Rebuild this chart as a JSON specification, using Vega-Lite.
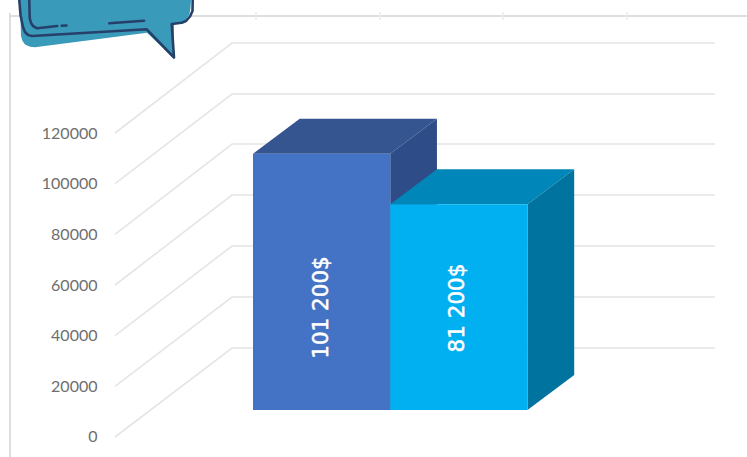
{"$schema":"https://vega.github.io/schema/vega-lite/v6.json","width":747,"height":457,"autosize":{"type":"none"},"padding":0,"background":"white","config":{"view":{"stroke":null}},
"datasets":{
"grid":[
{"level":0,"x":-1.0055,"y":0},{"level":0,"x":-0.153,"y":35132},{"level":0,"x":3.3661,"y":35132},
{"level":20000,"x":-1.0055,"y":20000},{"level":20000,"x":-0.153,"y":55264},{"level":20000,"x":3.3661,"y":55264},
{"level":40000,"x":-1.0055,"y":40000},{"level":40000,"x":-0.153,"y":75396},{"level":40000,"x":3.3661,"y":75396},
{"level":60000,"x":-1.0055,"y":60000},{"level":60000,"x":-0.153,"y":95527},{"level":60000,"x":3.3661,"y":95527},
{"level":80000,"x":-1.0055,"y":80000},{"level":80000,"x":-0.153,"y":115659},{"level":80000,"x":3.3661,"y":115659},
{"level":100000,"x":-1.0055,"y":100000},{"level":100000,"x":-0.153,"y":135396},{"level":100000,"x":3.3661,"y":135396},
{"level":120000,"x":-1.0055,"y":120000},{"level":120000,"x":-0.153,"y":155528},{"level":120000,"x":3.3661,"y":155528}],
"faces":[
{"face":"A top","x":0,"top":111858,"bottom":111858},{"face":"A top","x":0.3403,"top":125674,"bottom":111858},{"face":"A top","x":1,"top":125674,"bottom":111858},{"face":"A top","x":1.3403,"top":125674,"bottom":125674},
{"face":"A side","x":1,"top":111858,"bottom":10658},{"face":"A side","x":1.3403,"top":125674,"bottom":24474},
{"face":"B top","x":1,"top":91858,"bottom":91858},{"face":"B top","x":1.3403,"top":105674,"bottom":91858},{"face":"B top","x":2,"top":105674,"bottom":91858},{"face":"B top","x":2.3403,"top":105674,"bottom":105674},
{"face":"B side","x":2,"top":91858,"bottom":10658},{"face":"B side","x":2.3403,"top":105674,"bottom":24474}],
"bars":[
{"face":"A front","start":0,"end":1,"base":10658,"top":111858,"label":"101 200$","lx":0.505,"ly":51120},
{"face":"B front","start":1,"end":2,"base":10658,"top":91858,"label":"81 200$","lx":1.491,"ly":50921}],
"frame":[
{"p":"top","x":0.9,"y":1.6},{"p":"top","x":74.7,"y":1.6},
{"p":"left","x":1.0,"y":1.3},{"p":"left","x":1.0,"y":45.7}],
"frameTicks":[
{"p":"t1","x":25.6,"y":1.2},{"p":"t1","x":25.6,"y":2.0},
{"p":"t2","x":38.0,"y":1.2},{"p":"t2","x":38.0,"y":2.0},
{"p":"t3","x":50.3,"y":1.2},{"p":"t3","x":50.3,"y":2.0},
{"p":"t4","x":62.7,"y":1.2},{"p":"t4","x":62.7,"y":2.0}],
"bubbleFill":[
{"x":2.0,"top":0,"bottom":0},{"x":2.1,"top":0,"bottom":3.6},{"x":2.25,"top":0,"bottom":4.1},{"x":2.5,"top":0,"bottom":4.45},{"x":3.0,"top":0,"bottom":4.68},{"x":3.5,"top":0,"bottom":4.73},{"x":14.7,"top":0,"bottom":3.27},{"x":17.35,"top":0,"bottom":5.8},{"x":17.4,"top":0,"bottom":2.45},{"x":18.1,"top":0,"bottom":2.35},{"x":18.6,"top":0,"bottom":2.0},{"x":18.95,"top":0,"bottom":1.4},{"x":19.05,"top":0,"bottom":0.8},{"x":19.1,"top":0,"bottom":0}],
"bubbleLine":[
{"p":"outer","o":1,"x":1.93,"y":0},{"p":"outer","o":2,"x":2.05,"y":1.5},{"p":"outer","o":3,"x":2.3,"y":2.7},{"p":"outer","o":4,"x":2.5,"y":3.2},{"p":"outer","o":5,"x":2.8,"y":3.5},{"p":"outer","o":6,"x":3.2,"y":3.6},{"p":"outer","o":7,"x":14.67,"y":2.93},{"p":"outer","o":8,"x":17.4,"y":5.75},{"p":"outer","o":9,"x":17.17,"y":2.4},{"p":"outer","o":10,"x":18.17,"y":2.27},{"p":"outer","o":11,"x":18.6,"y":2.1},{"p":"outer","o":12,"x":19.0,"y":1.65},{"p":"outer","o":13,"x":19.25,"y":1.1},{"p":"outer","o":14,"x":19.27,"y":0},
{"p":"inner","o":1,"x":2.93,"y":0},{"p":"inner","o":2,"x":2.97,"y":1.8},{"p":"inner","o":3,"x":3.1,"y":2.3},{"p":"inner","o":4,"x":3.3,"y":2.6},{"p":"inner","o":5,"x":3.7,"y":2.83},{"p":"inner","o":6,"x":5.73,"y":2.6},
{"p":"dash1","o":1,"x":6.17,"y":2.57},{"p":"dash1","o":2,"x":6.65,"y":2.55},
{"p":"dash2","o":1,"x":10.93,"y":2.33},{"p":"dash2","o":2,"x":14.4,"y":2.07}]
},
"resolve":{"scale":{"x":"independent","y":"independent"}},
"layer":[
{"layer":[
{"data":{"name":"grid"},"mark":{"type":"line","color":"#e5e5e5","strokeWidth":1.6},
"encoding":{"x":{"field":"x","type":"quantitative","scale":{"domain":[-1.8434,3.5993],"nice":false,"zero":false},"axis":null},
"y":{"field":"y","type":"quantitative","scale":{"domain":[-7895,172501],"nice":false,"zero":false},"axis":{"values":[0,20000,40000,60000,80000,100000,120000],"format":"d","title":null,"grid":false,"domain":false,"ticks":false,"offset":-97,"labelPadding":0,"labelOffset":0,"labelFont":"Lato","labelFontSize":16,"labelColor":"#6e6e6e"}},
"detail":{"field":"level"}}},
{"data":{"name":"faces"},"mark":{"type":"area","line":false,"opacity":1},
"encoding":{"x":{"field":"x","type":"quantitative"},"y":{"field":"top","type":"quantitative","stack":null},"y2":{"field":"bottom"},
"color":{"field":"face","type":"nominal","legend":null,"scale":{"domain":["A top","A side","A front","B top","B side","B front"],"range":["#34558f","#2e4c87","#4472c4","#0086b8","#00749f","#00b0f0"]}}}},
{"data":{"name":"bars"},"mark":{"type":"rect"},
"encoding":{"x":{"field":"start","type":"quantitative"},"x2":{"field":"end"},"y":{"field":"base","type":"quantitative"},"y2":{"field":"top"},
"color":{"field":"face","type":"nominal","legend":null,"scale":{"domain":["A top","A side","A front","B top","B side","B front"],"range":["#34558f","#2e4c87","#4472c4","#0086b8","#00749f","#00b0f0"]}}}},
{"data":{"name":"bars"},"mark":{"type":"text","angle":270,"font":"DejaVu Sans","fontSize":21.5,"color":"white","stroke":"white","strokeWidth":0.5,"align":"center","baseline":"middle"},
"encoding":{"x":{"field":"lx","type":"quantitative"},"y":{"field":"ly","type":"quantitative"},"text":{"field":"label"}}}
]},
{"layer":[
{"data":{"name":"frame"},"mark":{"type":"line","color":"#dedede","strokeWidth":2},
"encoding":{"x":{"field":"x","type":"quantitative","scale":{"domain":[0,74.7],"nice":false,"zero":false},"axis":null},
"y":{"field":"y","type":"quantitative","scale":{"domain":[45.7,0],"nice":false,"zero":false},"axis":null},
"detail":{"field":"p"},"order":{"field":"y"}}},
{"data":{"name":"frameTicks"},"mark":{"type":"line","color":"#ebebeb","strokeWidth":1.5},
"encoding":{"x":{"field":"x","type":"quantitative"},"y":{"field":"y","type":"quantitative"},"detail":{"field":"p"},"order":{"field":"y"}}},
{"data":{"name":"bubbleFill"},"mark":{"type":"area","color":"#3a9aba"},
"encoding":{"x":{"field":"x","type":"quantitative"},"y":{"field":"top","type":"quantitative","stack":null},"y2":{"field":"bottom"}}},
{"data":{"name":"bubbleLine"},"mark":{"type":"line","color":"#26406a","strokeWidth":2.6,"strokeCap":"round","strokeJoin":"round"},
"encoding":{"x":{"field":"x","type":"quantitative"},"y":{"field":"y","type":"quantitative"},"detail":{"field":"p"},"order":{"field":"o"}}}
]}
]}
